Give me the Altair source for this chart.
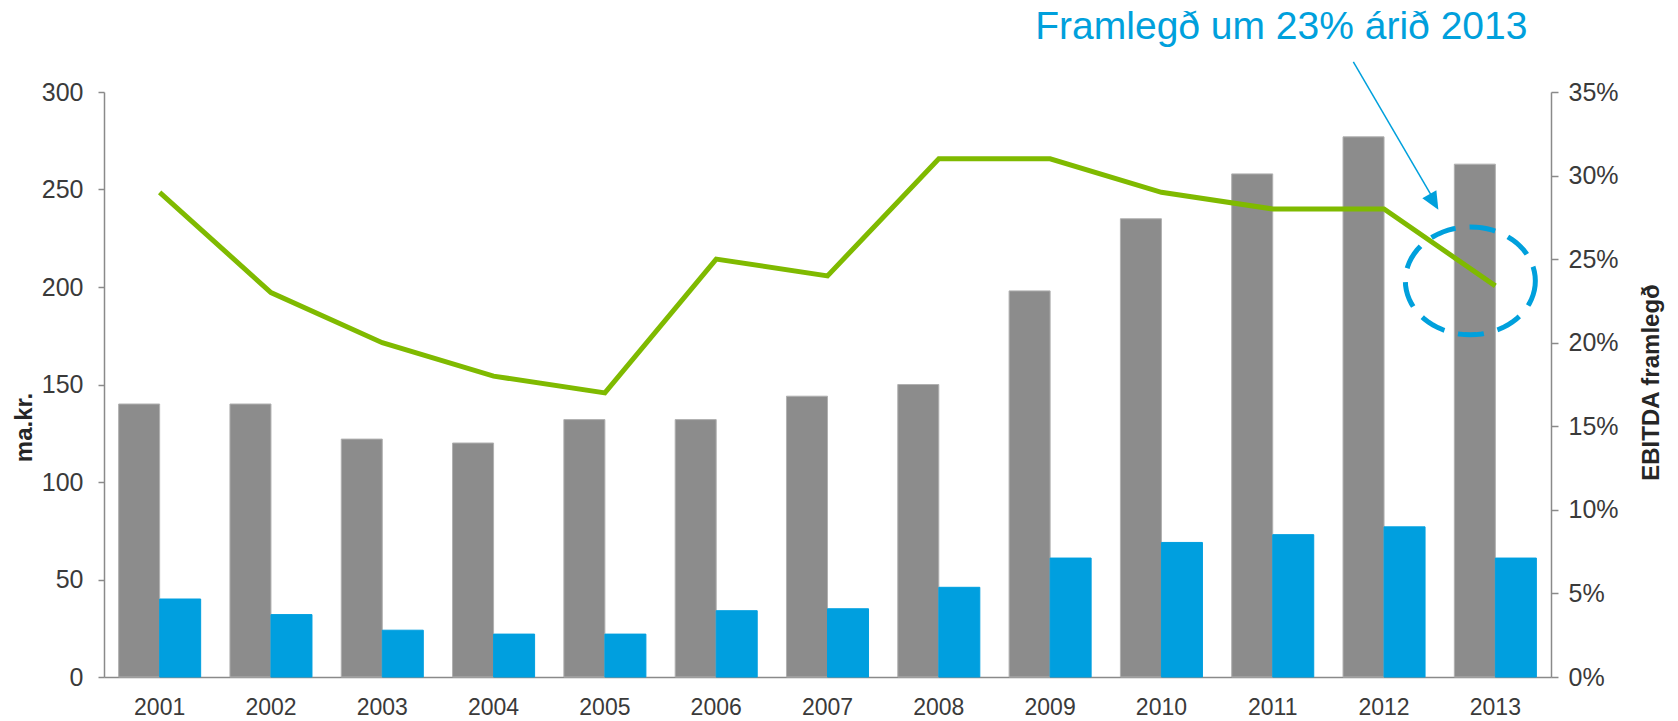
import math
import altair as alt
import pandas as pd

# ---- data ----
years = ["2001", "2002", "2003", "2004", "2005", "2006", "2007",
         "2008", "2009", "2010", "2011", "2012", "2013"]
tekjur = [140, 140, 122, 120, 132, 132, 144, 150, 198, 235, 258, 277, 263]
ebitda = [40, 32, 24, 22, 22, 34, 35, 46, 61, 69, 73, 77, 61]
framlegd = [29, 23, 20, 18, 17, 25, 24, 31, 31, 29, 28, 28, 23.4]
series = ["Tekjur", "EBITDA"]
left_max = 300
right_max = 35
left_ticks = [0, 50, 100, 150, 200, 250, 300]
right_ticks = [0, 5, 10, 15, 20, 25, 30, 35]
left_title = "ma.kr."
right_title = "EBITDA framlegð"
note_text = "Framlegð um 23% árið 2013"
note_year = "2013"

# ---- styles ----
FONT = "Liberation Sans"
GRAY = "#8C8C8C"
BLUE = "#009FDF"
GREEN = "#7FBA00"
AXIS = "#8A8A8A"
LABEL = "#3A3A3A"
NOTE = "#00A0DC"

ratio = left_max / right_max  # one percentage point expressed on the left scale

bars_df = pd.DataFrame(
    [{"year": y, "series": "Tekjur", "value": v} for y, v in zip(years, tekjur)]
    + [{"year": y, "series": "EBITDA", "value": v} for y, v in zip(years, ebitda)]
)
line_df = pd.DataFrame({"year": years, "framlegd": framlegd})

y_scale = alt.Scale(domain=[0, left_max], nice=False)

x_enc = alt.X(
    "year:O", sort=years,
    scale=alt.Scale(paddingInner=0.263, paddingOuter=0.1315),
    axis=alt.Axis(orient="bottom", title=None, labelAngle=0, ticks=False,
                  labelPadding=19, labelFontSize=23, labelColor=LABEL,
                  domainColor=AXIS, domainWidth=1.5, labelFont=FONT),
)

bars = alt.Chart(bars_df).mark_bar().encode(
    x=x_enc,
    xOffset=alt.XOffset("series:N", sort=series,
                        scale=alt.Scale(paddingInner=0, paddingOuter=0)),
    y=alt.Y("value:Q", scale=y_scale,
            axis=alt.Axis(orient="left", values=left_ticks, title=left_title, grid=False,
                          tickSize=6, tickColor=AXIS, tickWidth=1.5,
                          domainColor=AXIS, domainWidth=1.5,
                          labelPadding=15, labelFontSize=25, labelColor=LABEL,
                          labelFont=FONT,
                          titleFont=FONT, titleFontSize=24, titleFontWeight="bold",
                          titleColor="#262626", titleAngle=270,
                          titleAlign="center", titleBaseline="middle",
                          titleX=-80, titleY=335)),
    color=alt.Color("series:N", scale=alt.Scale(domain=series, range=[GRAY, BLUE]),
                    legend=None),
    stroke=alt.Stroke("series:N", scale=alt.Scale(domain=series, range=["#B0B0B0", BLUE]),
                      legend=None),
)

# percentages are drawn on the same vertical scale (right axis relabels it in %)
line = alt.Chart(line_df).transform_calculate(
    yv=f"datum.framlegd * {ratio}"
).mark_line(color=GREEN, strokeWidth=5).encode(
    x=x_enc,
    y=alt.Y("yv:Q", scale=y_scale,
            axis=alt.Axis(orient="right", values=[t * ratio for t in right_ticks],
                          title=right_title,
                          labelExpr=f"round(datum.value / {ratio}) + '%'", grid=False,
                          tickSize=7, tickColor=AXIS, tickWidth=1.5,
                          domainColor=AXIS, domainWidth=1.5,
                          labelPadding=10, labelFontSize=25, labelColor=LABEL,
                          labelFont=FONT,
                          titleFont=FONT, titleFontSize=24, titleFontWeight="bold",
                          titleColor="#262626", titleAngle=270,
                          titleAlign="center", titleBaseline="middle",
                          titleX=100, titleY=290)),
)

# ---- annotation (circle, arrow, note) placed in data space around 2013 (y in %) ----
ellipse_pts = " ".join(
    ("M" if i == 0 else "L") + f" {math.cos(2 * math.pi * i / 72):.4f} {0.83 * math.sin(2 * math.pi * i / 72):.4f}"
    for i in range(72)
) + " Z"

def pct_chart(df):
    return alt.Chart(df).transform_calculate(yv=f"datum.p * {ratio}")

circle = pct_chart(pd.DataFrame({"year": [note_year], "p": [23.7]})).mark_point(
    shape=ellipse_pts, size=130 * 130, filled=False, color=NOTE,
    strokeWidth=5, strokeDash=[26, 14], opacity=1, xOffset=-25,
).encode(x=x_enc, y=alt.Y("yv:Q", scale=y_scale, axis=None))

arrow_line = alt.Chart(pd.DataFrame({"year": [note_year], "year2": [note_year],
                                     "p": [36.8], "p2": [28.6]})).transform_calculate(
    yv=f"datum.p * {ratio}", yv2=f"datum.p2 * {ratio}"
).mark_rule(
    color=NOTE, strokeWidth=1.5, xOffset=-142, x2Offset=-62,
).encode(x=x_enc, x2="year2:O", y=alt.Y("yv:Q", scale=y_scale, axis=None), y2="yv2:Q")

arrow_head = pct_chart(pd.DataFrame({"year": [note_year], "p": [27.95]})).mark_point(
    shape="M 0 0 L -0.45 -1 L 0.45 -1 Z", size=36 * 36, filled=True,
    color=NOTE, opacity=1, angle=330, xOffset=-57,
).encode(x=x_enc, y=alt.Y("yv:Q", scale=y_scale, axis=None))

note = pct_chart(pd.DataFrame({"year": [note_year], "p": [38.2], "t": [note_text]})).mark_text(
    font=FONT, fontSize=39, color=NOTE, align="center",
    baseline="alphabetic", xOffset=-214,
).encode(x=x_enc, y=alt.Y("yv:Q", scale=y_scale, axis=None), text="t:N")

chart = alt.layer(bars, line, circle, arrow_line, arrow_head, note).resolve_axis(
    y="independent"
).properties(
    width=1447, height=585,
    autosize=alt.AutoSizeParams(type="none"),
    padding={"left": 104, "top": 92, "right": 127, "bottom": 44},
    background="white",
).configure(font=FONT).configure_view(stroke=None)

chart.save("out.html", embed_options={"renderer": "svg", "actions": False})
